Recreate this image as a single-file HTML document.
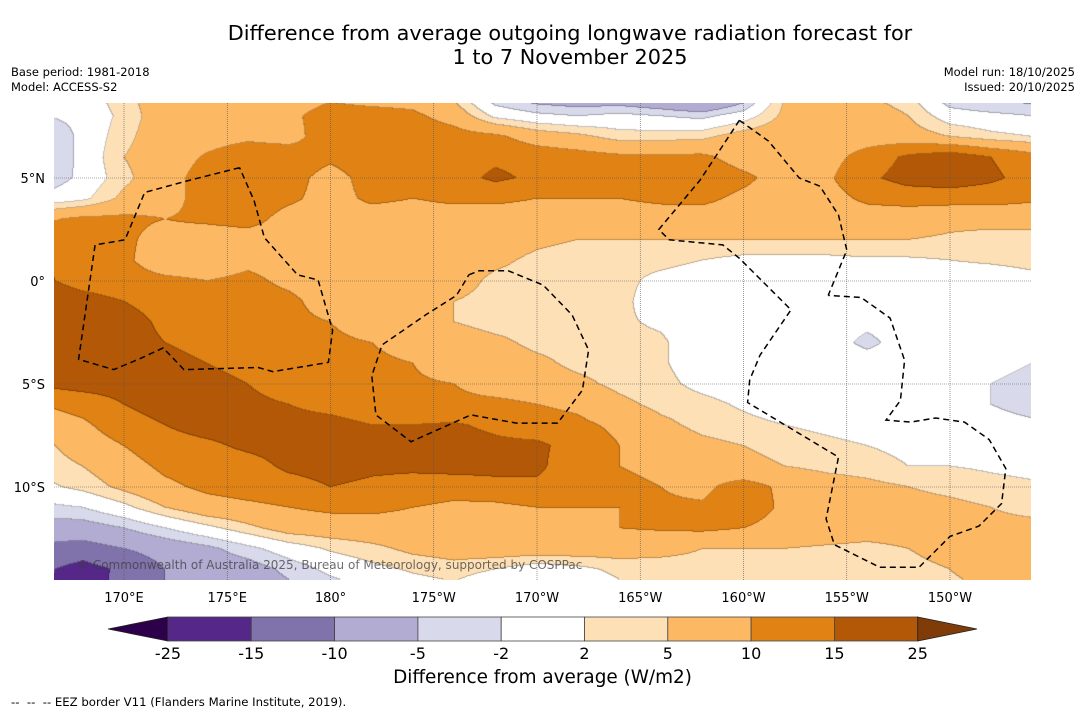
<!DOCTYPE html>
<html><head><meta charset="utf-8">
<style>
body{margin:0;background:#fff;width:1085px;height:713px;overflow:hidden;position:relative;font-family:"DejaVu Sans","Liberation Sans",sans-serif;color:#000}
.t{position:absolute;white-space:nowrap}
</style></head>
<body>
<div class="t" style="left:0;width:1140px;top:21px;text-align:center;font-size:20.8px;line-height:24px">Difference from average outgoing longwave radiation forecast for<br>1 to 7 November 2025</div>
<div class="t" style="left:11px;top:65px;font-size:11.5px;line-height:15px">Base period: 1981-2018<br>Model: ACCESS-S2</div>
<div class="t" style="right:10px;top:65px;font-size:11.5px;line-height:15px;text-align:right">Model run: 18/10/2025<br>Issued: 20/10/2025</div>
<canvas id="map" width="977" height="477" style="position:absolute;left:54px;top:103px"></canvas>
<svg id="ov" width="1085" height="713" style="position:absolute;left:0;top:0"></svg>
<div class="t" style="left:77px;top:558px;font-size:12px;color:rgba(60,60,60,0.75)">© Commonwealth of Australia 2025, Bureau of Meteorology, supported by COSPPac</div>
<div class="t" style="left:0;width:1085px;top:667px;text-align:center;font-size:18.4px">Difference from average (W/m2)</div>
<div class="t" style="left:11px;top:695px;font-size:11.7px">-- &nbsp;-- &nbsp;-- EEZ border V11 (Flanders Marine Institute, 2019).</div>
<script>
const lons=[166,168,170,172,174,176,178,180,182,184,186,188,190,192,194,196,198,200,202,204,206,208,210,212,214];
const lats=[9,8,7,6,5,4,3,2,1,0,-1,-2,-3,-4,-5,-6,-7,-8,-9,-10,-11,-12,-13,-14,-15];
const r9=[-1,0,4,7.5,7.5,7.5,7.5,9,7.5,7.5,4,-5,-8,-9,-9,-11,-14,-8,5,7,5,3,-5,-7,-7];
const r8=[-2,-1,3,7.5,7.5,8,9,12,12,11,8,1,-1,-2,-1,-2,-3,0,6,8,7.5,5,0,-1,-2];
const r7=[-6,-1,4,7.5,8,9,8,13,13,13,12,11,7.5,6,3.5,3.5,4,7,8,7.5,7.5,7,5,3,2];
const r6=[-6,-1,5,7.5,10.5,13,13,11,13,13,13,14,13,12,11,11,11,8,7.5,8,12,16,18,15,12];
const r5=[-5,-1,4,8,12,13,12,8,12,13,13,16,14,13,13,13,13,11,8,9,14,17,18,16,13];
const r4=[-1,1,6,8,12,13,11,8,11,10,11,11,10,10,10,11,11,9,7.5,8,11,12,12,12,11];
const r3=[9,11,11,10,11,12,8,7,7.5,7.5,7.5,7.5,7.5,7.5,7.5,7.5,8,7.5,7,7,7.5,7,6,6,6];
const r2=[14,12,11,8,7,7.5,7.5,7.5,7.5,7.5,7.5,7.5,6,5,5,5,5,5,5,5,5,5,4.5,4,4];
const r1=[16,12,11,7,7,9,8,7.5,7.5,7.5,7,6,4,3,3,3,2,1,1,1,1.5,1.5,2,2.5,3];
const r0=[16,13,12,11,10,11,9,7.5,7.5,7.5,7,4,3,3,3,1,0,0,0,0,0,0,0,0,1];
const rm1=[19,17,15,13,12,12,11,8,7.5,7.5,5,3.5,3,3,3,0,0,0,0,0,0,0,0,0,0];
const rm2=[21,20,17,14,13,12,11,10,7.5,7,5,3.5,3.5,3,2.5,1.5,0,0,0,0,-1,0,0,0,0];
const rm3=[20,19,17,15,14,13,12,11,10,8,7.5,6,4,3.5,3,2.5,0,0,0,0,-3,0,0,0,-1];
const rm4=[19,18,17,16,15,14,13,12,11,10,8,7.5,6,4,3.5,2.5,0,0,0,0,0,0,0,0,-2];
const rm5=[16,17,17,17,16,15,13,12,11,10.5,10,8,7.5,6,4,3,1,0,0,0,0,0,0,-2,-4];
const rm6=[10,12,15,17,17,16,15,14,13,12,11,11,10,9,6,4,3,1.5,0,0,0,0,0,-2,-4];
const rm7=[7,9,13,15,17,17,16,16,15,15,15.5,14,12,11,9,6,4,3,2,1,0,0,0,0,-1];
const rm8=[4,7,10,13,14,16,17,17,17,17,17,16,16,13,10,7.5,6,5,4,3,2,1,1,1,1];
const rm9=[3,5,8,11,12,13,16,17,16,16,17,17,16,12,10,9,7.5,6,5,4,3.5,2,2,1.5,1];
const rm10=[1,3,6,9,11,12,13,15,14,13,12,13,14,12,11,10,9,12,9,7,6,5,4,3,2.5];
const rm11=[-3,-2,1,5,8,9,10,11,11,10,9,9,10,10,10,10.5,10.5,13,9,8,7,6.5,6,5,4];
const rm12=[-7,-7,-5,-2,1,4,7,7.5,8,8,8,8,8.5,9,10,10.5,11,10,8,7.5,7,7,7,6,6];
const rm13=[-11,-12,-10,-8,-6,-3,0,2.5,4,6,7,7.5,7.5,7.5,7,6.5,5,5,5,4.5,4,5,7,8,8];
const rm14=[-14,-17,-14,-10,-8,-7,-4,-1,1,2.5,3.5,2,0,1,3,3,3.5,3.5,3.5,3,3,3.5,5,7,7];
const rm15=[-14,-18,-13,-10,-9,-8,-6,-4,-2,0,1,-2,-4,-2,1,2,2,2,2,2,2,3,4,5,6];
const grid=[r9,r8,r7,r6,r5,r4,r3,r2,r1,r0,rm1,rm2,rm3,rm4,rm5,rm6,rm7,rm8,rm9,rm10,rm11,rm12,rm13,rm14,rm15];
const levels=[-25,-15,-10,-5,-2,2,5,10,15,25];
const colors=['#2d004b','#542788','#8073ac','#b2abd2','#d8daeb','#ffffff','#fee0b6','#fdb863','#e08214','#b35806','#7f3b08'];
const lonTicks=[170,175,180,185,190,195,200,205,210];
const lonLabels=['170°E','175°E','180°','175°W','170°W','165°W','160°W','155°W','150°W'];
const latTicks=[5,0,-5,-10];
const latLabels=['5°N','0°','5°S','10°S'];
const eez1=[[175.6,5.5],[173.2,4.9],[171.0,4.3],[170.05,2.0],[168.6,1.75],[167.8,-3.8],[169.5,-4.3],[170.7,-3.8],[171.9,-3.25],[172.9,-4.3],[176.5,-4.2],[177.2,-4.4],[179.9,-3.95],[180.1,-2.4],[179.4,0.05],[178.4,0.3],[176.8,2.1],[176.3,3.9],[175.6,5.5]];
const eez2=[[186.7,0.3],[187.2,0.5],[188.6,0.5],[190.3,-0.2],[191.7,-1.65],[192.5,-3.35],[192.2,-5.3],[191.0,-6.9],[189.0,-6.9],[186.8,-6.5],[183.9,-7.8],[182.2,-6.5],[182.0,-4.6],[182.5,-3.1],[184.6,-1.65],[186.1,-0.7],[186.7,0.3]];
const eez3=[[199.8,7.8],[201.2,6.8],[202.7,5.0],[203.7,4.6],[204.6,3.2],[205.0,1.5],[204.1,-0.7]];
const eez4=[[199.8,7.8],[197.9,4.9],[195.9,2.5],[196.4,2.0],[199.0,1.75],[199.8,1.1],[202.3,-1.4],[200.8,-3.6],[200.3,-4.8],[200.2,-5.9],[204.6,-8.55],[204.0,-11.55],[204.4,-12.8],[206.6,-13.9],[208.5,-13.9],[210.0,-12.4],[211.4,-11.9],[212.5,-10.8],[212.7,-9.1],[211.9,-7.7],[210.7,-6.85],[209.3,-6.65],[208.1,-6.85],[206.9,-6.75],[207.6,-5.8],[207.8,-3.85],[207.1,-1.8],[205.7,-0.8],[204.1,-0.7]];
const eezLines=[eez1,eez2,eez3,eez4];

const X0=54,Y0=103,W=977,H=477;
function xOf(lon){return 124+(lon-170)*20.65;}
function yOf(lat){return 281-lat*20.6;}
function lonOf(x){return 170+(x-124)/20.65;}
function latOf(y){return (281-y)/20.6;}
function hex(c){return [parseInt(c.slice(1,3),16),parseInt(c.slice(3,5),16),parseInt(c.slice(5,7),16)];}
const rgb=colors.map(hex);
function val(lon,lat){
  let fx=(lon-lons[0])/(lons[1]-lons[0]);let fy=(lats[0]-lat)/(lats[0]-lats[1]);
  fx=Math.max(0,Math.min(lons.length-1.0001,fx));fy=Math.max(0,Math.min(lats.length-1.0001,fy));
  const i=Math.floor(fx),j=Math.floor(fy),a=fx-i,b=fy-j;
  return grid[j][i]*(1-a)*(1-b)+grid[j][i+1]*a*(1-b)+grid[j+1][i]*(1-a)*b+grid[j+1][i+1]*a*b;
}
const cv=document.getElementById('map');const ctx=cv.getContext('2d');
const img=ctx.createImageData(W,H);
const cls=new Int8Array(W*H);
for(let py=0;py<H;py++){const lat=latOf(py+Y0+0.5);
  for(let px=0;px<W;px++){const v=val(lonOf(px+X0+0.5),lat);let k=0;while(k<levels.length&&v>=levels[k])k++;cls[py*W+px]=k;}}
for(let py=0;py<H;py++)for(let px=0;px<W;px++){
  const k=cls[py*W+px];let c=rgb[k];
  const edge=(px<W-1&&cls[py*W+px+1]!==k)||(py<H-1&&cls[(py+1)*W+px]!==k);
  const o=(py*W+px)*4;
  if(edge){img.data[o]=c[0]*0.75;img.data[o+1]=c[1]*0.75;img.data[o+2]=c[2]*0.75;}
  else{img.data[o]=c[0];img.data[o+1]=c[1];img.data[o+2]=c[2];}
  img.data[o+3]=255;}
ctx.putImageData(img,0,0);

const NS='http://www.w3.org/2000/svg';const sv=document.getElementById('ov');
function mk(tag,at,parent){const e=document.createElementNS(NS,tag);for(const k in at)e.setAttribute(k,at[k]);(parent||sv).appendChild(e);return e;}
lonTicks.forEach((lon,i)=>{const x=xOf(lon);
  const l=mk('line',{x1:x,x2:x,y1:Y0,y2:Y0+H,stroke:'#555','stroke-width':0.6,'stroke-dasharray':'1,1'});
  
  
  const t=mk('text',{x:x,y:602,'text-anchor':'middle','font-size':13,'font-family':'DejaVu Sans, Liberation Sans, sans-serif'});
  t.textContent=lonLabels[i];
  
  
});
latTicks.forEach((lat,i)=>{const y=yOf(lat);
  const l=mk('line',{x1:X0,x2:X0+W,y1:y,y2:y,stroke:'#555','stroke-width':0.6,'stroke-dasharray':'1,1'});
  
  
  const t=mk('text',{x:45,y:y+5,'text-anchor':'end','font-size':13,'font-family':'DejaVu Sans, Liberation Sans, sans-serif'});
  t.textContent=latLabels[i];
  
  
});
eezLines.forEach(pts=>{
  const p=mk('polyline',{points:pts.map(q=>xOf(q[0]).toFixed(1)+','+yOf(q[1]).toFixed(1)).join(' '),fill:'none',stroke:'#000','stroke-width':1.5,'stroke-dasharray':'6,4'});
  
  
});
const cbX=168,cbW=83.3,cbY=617,cbH=24;
const lo=mk('polygon',{points:`108,629 ${cbX},${cbY} ${cbX},${cbY+cbH}`,fill:colors[0],stroke:'#222','stroke-width':0.8});


for(let i=0;i<levels.length-1;i++){
  const r=mk('rect',{x:cbX+i*cbW,y:cbY,width:cbW,height:cbH,fill:colors[i+1],stroke:'#444','stroke-width':0.8});
  
  
}
const xe=cbX+(levels.length-1)*cbW;
const hi=mk('polygon',{points:`${xe},${cbY} 977,629 ${xe},${cbY+cbH}`,fill:colors[colors.length-1],stroke:'#222','stroke-width':0.8});


levels.forEach((lv,i)=>{
  const t=mk('text',{x:cbX+i*cbW,y:659,'text-anchor':'middle','font-size':16,'font-family':'DejaVu Sans, Liberation Sans, sans-serif'});
  t.textContent=String(lv);
  
  
});
</script>
</body></html>
